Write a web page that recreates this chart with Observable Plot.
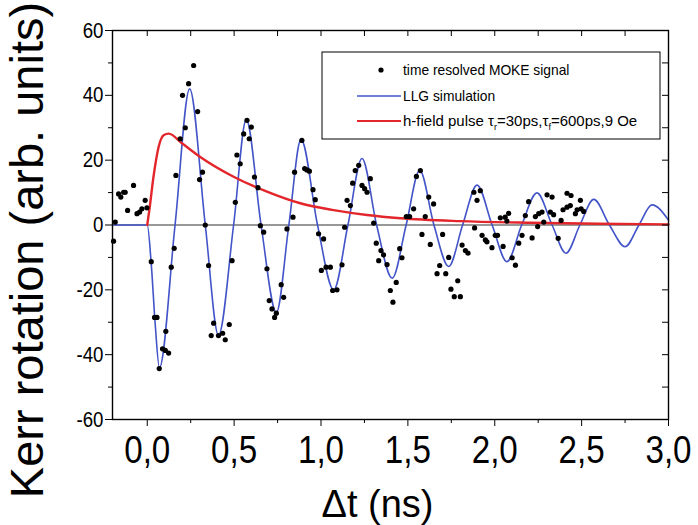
<!DOCTYPE html>
<html><head><meta charset="utf-8">
<script src="https://cdn.jsdelivr.net/npm/d3@7"></script>
<script src="https://cdn.jsdelivr.net/npm/@observablehq/plot@0.6"></script>
<style>html,body{margin:0;padding:0;background:#fff}</style>
</head><body><div id="chart"></div>
<script>
// time resolved MOKE signal (Δt in ns, Kerr rotation arb. units)
const mokeT = [-0.194,-0.184,-0.165,-0.152,-0.136,-0.127,-0.113,-0.079,-0.059,-0.044,-0.031,-0.012,-0.002,
  0.023,0.042,0.056,0.069,0.088,0.104,0.107,0.123,0.138,0.155,0.165,0.19,0.203,0.219,0.238,0.267,0.29,0.301,0.318,
  0.334,0.353,0.368,0.382,0.41,0.434,0.449,0.472,0.488,0.507,0.516,0.535,0.555,0.574,0.587,0.599,0.617,
  0.637,0.651,0.67,0.689,0.702,0.718,0.733,0.743,0.771,0.785,0.804,0.839,0.848,0.89,0.906,0.919,0.933,0.954,0.967,
  0.986,1.002,1.015,1.029,1.054,1.067,1.092,1.121,1.136,1.15,1.169,1.182,1.197,1.217,1.236,1.251,1.265,1.284,1.303,
  1.318,1.332,1.345,1.36,1.38,1.399,1.414,1.433,1.453,1.466,1.491,1.51,1.533,1.549,1.572,1.581,1.6,1.62,1.629,1.648,
  1.668,1.683,1.7,1.718,1.735,1.748,1.767,1.787,1.802,1.812,1.831,1.846,1.88,1.884,1.898,1.917,1.927,1.946,1.955,
  1.984,2.003,2.016,2.032,2.048,2.06,2.07,2.08,2.1,2.119,2.138,2.157,2.176,2.195,2.215,2.234,2.247,2.253,2.272,2.282,
  2.301,2.32,2.33,2.339,2.365,2.382,2.393,2.416,2.416,2.435,2.439,2.464,2.474,2.493,2.497,2.512];
const mokeV = [-5.0,0.9,9.6,8.6,10.1,10.1,4.5,12.2,3.5,4.0,5.0,7.6,5.3,
  -11.3,-28.5,-28.5,-44.3,-38.2,-38.7,-32.8,-39.5,-13,-7.2,15.3,26.6,40,30,43.6,49.2,35,14,16.3,
  0,-12.5,-34.1,-30.3,-34.1,-33.4,-35.4,-30.7,-11,7,21.6,18.9,28.1,32.3,26.6,30.2,14.8,
  11.5,-0.2,-2.2,-13.5,-23.3,-25.9,-28.5,-27.2,-18.4,-22.3,-1.2,2.4,16.3,26.1,17.4,17,16.6,10.9,7.8,
  -2.7,-14,-4.3,-13,-13,-20.2,-20,-12.3,-0.7,7.6,6,12.9,16.8,18.4,12.2,11.2,10.1,14.3,0.6,
  -5.6,-11,-7.9,-9.2,-12.2,-20.2,-23.8,-17.7,-7.3,-10.1,2.6,2.6,5,15,16.8,-2.9,2.6,8.6,-6,6.5,
  -15,-12.5,-2.9,-15,-10,-19.8,-22.1,-17.2,-22.1,-6.2,-7.9,-8.7,10.1,-0.9,7.6,10.6,-3.2,-4.6,-5.2,
  -7,-3.2,-3.2,2.2,-6.6,2.4,1.2,3.6,-10.1,-12.4,-5.6,-3.2,2.9,7.2,-4,2.6,-0.5,3.5,4,0.9,
  9.3,4,8.6,3.2,-4.1,1.4,4.7,9.8,5.5,6,9.1,3.5,4.7,7.6,5,4.2];

// LLG simulation (extremes and zero crossings)
const llgT = [-0.2,0,0.023,0.045,0.07,0.16,0.244,0.334,0.41,0.497,0.57,0.655,0.743,0.815,0.885,0.98,1.073,1.155,
  1.236,1.32,1.41,1.49,1.568,1.65,1.735,1.815,1.898,1.985,2.07,2.155,2.243,2.33,2.41,2.49,2.57,2.66,2.75,2.83,2.905,3.0];
const llgV = [0,0,-12,-30,-44,0,42,0,-34,0,32.5,0,-27,0,26.4,0,-20,0,
  20.5,0,-16.4,0,16.9,0,-12.8,0,12.3,0,-11.3,0,9.9,0,-8.7,0,7.9,0,-6.7,0,6.2,1.5];

// h-field pulse
const pulseT = [0,0.013,0.036,0.065,0.094,0.123,0.2,0.305,0.497,0.689,0.881,1.073,1.265,1.457,1.8,2.2,2.6,3.0];
const pulseV = [0,5,14.9,24,27.7,28.2,25.2,21,14.9,10.3,6.7,4.6,3.1,2.1,1.2,0.7,0.4,0.2];

const xTickValues = [0,0.5,1,1.5,2,2.5,3];
const xMinorTicks = [0.25,0.75,1.25,1.75,2.25,2.75];
const yTickValues = [-60,-40,-20,0,20,40,60];
const yMinorTicks = [-50,-30,-10,10,30,50];
const xTitle = "Δt (ns)";
const yTitle = "Kerr rotation (arb. units)";
const legendLabels = ["time resolved MOKE signal", "LLG simulation"];

const moke = mokeT.map((t,i)=>({t, v: mokeV[i]}));
const llg = llgT.map((t,i)=>({t, v: llgV[i]}));
const pulse = pulseT.map((t,i)=>({t, v: pulseV[i]}));

const W=698, H=525, mL=112, mR=30, mT=30, mB=106;
const fw = W-mL-mR, fh = H-mT-mB;
const FONT = "'Liberation Sans', Arial, Helvetica, sans-serif";

const chart = Plot.plot({
  width:W, height:H, marginLeft:mL, marginRight:mR, marginTop:mT, marginBottom:mB,
  style:{fontFamily:FONT, background:"white", color:"black", overflow:"visible"},
  x:{domain:[-0.2,3]}, y:{domain:[-60,60]},
  marks:[
    Plot.ruleY([0],{stroke:"#333",strokeWidth:1.2}),
    Plot.line(llg,{x:"t",y:"v",stroke:"#4254c8",strokeWidth:1.6,curve:"monotone-x"}),
    Plot.line(pulse,{x:"t",y:"v",stroke:"#e3262b",strokeWidth:2.4,curve:"monotone-x"}),
    Plot.dot(moke,{x:"t",y:"v",r:2.6,fill:"black",stroke:"none"}),
    Plot.frame({stroke:"black",strokeWidth:1.4}),
    Plot.axisX({ticks:xTickValues, tickSize:7, tickPadding:9, fontSize:39,
      tickFormat:d=>d.toFixed(1).replace(".",","), label:null}),
    Plot.axisX({ticks:xMinorTicks, tickSize:4, tickFormat:()=>"", label:null}),
    Plot.axisY({ticks:yTickValues, tickSize:7, tickPadding:2, fontSize:22,
      tickFormat:d=>String(d), label:null}),
    Plot.axisY({ticks:yMinorTicks, tickSize:4, tickFormat:()=>"", label:null}),
    Plot.tickX(xTickValues.concat(xMinorTicks), {x:d=>d, insetBottom:fh-6, stroke:"black"}),
    Plot.tickY(yTickValues.concat(yMinorTicks), {y:d=>d, insetLeft:fw-6, stroke:"black"}),
    Plot.text([xTitle], {frameAnchor:"bottom", dx:-13, dy:97, fontSize:38, textAnchor:"middle"}),
    Plot.text([yTitle], {frameAnchor:"left", dx:-85, dy:25, rotate:-90, fontSize:47, textAnchor:"middle"})
  ]
});
document.getElementById("chart").appendChild(chart);

const svg = d3.select(chart);
// condense tick labels horizontally (narrow typeface look)
function condense(sel, k) {
  sel.each(function() {
    const len = this.getComputedTextLength();
    if (len > 0) { this.setAttribute("textLength", (len * k).toFixed(1)); this.setAttribute("lengthAdjust", "spacingAndGlyphs"); }
  });
}
condense(svg.selectAll('g[aria-label="x-axis tick label"] text'), 0.85);
condense(svg.selectAll('g[aria-label="y-axis tick label"] text'), 0.85);

// legend
const g = svg.append("g").attr("font-family", FONT).attr("font-size", 15).attr("fill","black").attr("text-anchor","start");
g.append("rect").attr("x",322).attr("y",52).attr("width",338).attr("height",87)
  .attr("fill","white").attr("stroke","black").attr("stroke-width",1);
g.append("circle").attr("cx",381).attr("cy",70).attr("r",2.6).attr("fill","black");
const l1 = g.append("text").attr("x",403).attr("y",70).attr("dy","0.35em").text(legendLabels[0]);
g.append("line").attr("x1",357).attr("x2",401).attr("y1",96).attr("y2",96).attr("stroke","#4254c8").attr("stroke-width",1.6);
const l2 = g.append("text").attr("x",403).attr("y",96).attr("dy","0.35em").text(legendLabels[1]);
g.append("line").attr("x1",357).attr("x2",401).attr("y1",121).attr("y2",121).attr("stroke","#e3262b").attr("stroke-width",2.2);
const t3 = g.append("text").attr("x",403).attr("y",121).attr("dy","0.35em");
t3.append("tspan").text("h-field pulse τ");
t3.append("tspan").attr("font-size",9).attr("dy",4).text("r");
t3.append("tspan").attr("dy",-4).text("=30ps,τ");
t3.append("tspan").attr("font-size",9).attr("dy",4).text("f");
t3.append("tspan").attr("dy",-4).text("=600ps,9 Oe");
condense(l1, 0.92); condense(l2, 0.92);
</script>
</body></html>
